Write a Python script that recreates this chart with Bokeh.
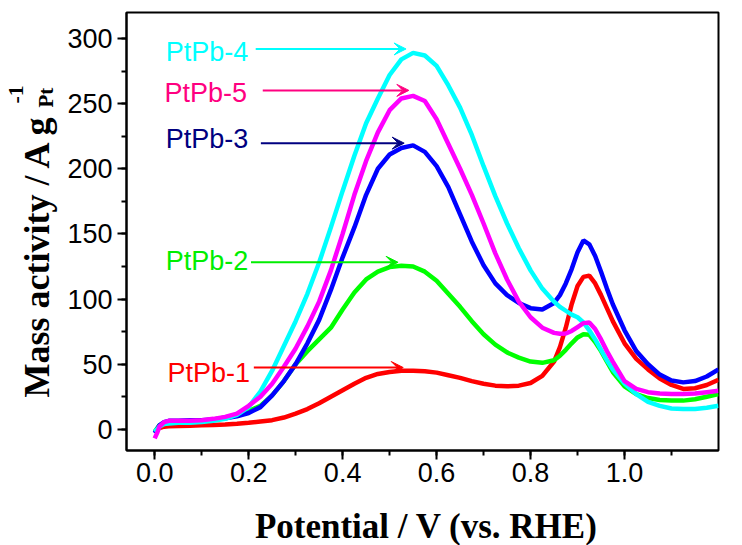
from bokeh.plotting import figure
from bokeh.layouts import row, column
from bokeh.models import (Range1d, SingleIntervalTicker, PrintfTickFormatter,
                          Label, Arrow, VeeHead)
from bokeh.core.properties import value
from bokeh.embed import file_html
from bokeh.resources import INLINE
import math

# ---------------- data ----------------
potential = [0, 0.005, 0.01, 0.02, 0.03, 0.05, 0.075, 0.1, 0.125, 0.15, 0.175,
             0.2, 0.225, 0.25, 0.275, 0.3, 0.325, 0.35, 0.375, 0.4, 0.425,
             0.45, 0.475, 0.5, 0.525, 0.55, 0.575, 0.6, 0.625, 0.65, 0.675,
             0.7, 0.725, 0.75, 0.775, 0.8, 0.825, 0.85, 0.8625, 0.875, 0.8875,
             0.9, 0.9125, 0.925, 0.9375, 0.95, 0.9625, 0.975, 1.0, 1.025,
             1.05, 1.075, 1.1, 1.125, 1.15, 1.175, 1.2]

ptpb1 = [-2, -0.5, 1, 2, 2.3, 2.5, 2.7, 3, 3.3, 3.6, 4.2,
         5, 6, 7, 9, 12, 15.5, 20, 25, 30, 35,
         39.5, 42.5, 44, 45, 45, 44.5, 43.5, 41.5, 39.5, 37,
         35, 33.5, 33, 33.5, 35.5, 41, 52, 63, 78, 96,
         110, 117, 118, 112, 103, 93, 83, 66, 54,
         46, 39, 34, 31, 31.5, 34, 38]

ptpb2 = [-2, 0.5, 3, 5, 5.5, 5.5, 6, 6.5, 7.5, 9, 11,
         14, 18, 26, 37, 50, 60, 69, 78, 92, 105,
         115, 121, 124.5, 125.5, 125, 121, 114, 104, 94, 83,
         73, 65, 59, 55, 52, 51, 53, 56.5, 61, 66,
         70.5, 73, 72.5, 67, 60, 52, 44, 33, 27,
         24, 22.5, 22, 22, 23, 25, 27]

ptpb3 = [-3, 0, 3, 5.5, 6.5, 6.5, 7, 7, 7.5, 8.5, 10,
         12.5, 17, 26, 37, 50, 66, 84, 107, 132, 155,
         180, 200, 211, 216, 218, 213, 202, 186, 165, 144,
         126, 112, 103, 97, 93, 92, 97, 103, 112, 123,
         136, 145, 142, 133, 121, 108, 96, 76, 60,
         50, 42, 37.5, 36, 37, 40.5, 46]

ptpb4 = [-2, 0, 2, 4, 4.5, 5, 5, 5.5, 6.5, 8, 11,
         17, 29, 45, 64, 83, 104, 128, 155, 183, 210,
         235, 254, 272, 284, 289, 287, 279, 264, 247, 226,
         202, 179, 158, 139, 122, 108, 98, 94, 91, 88,
         86, 82, 76, 69, 61, 53, 46, 35, 27,
         21, 18, 16, 15.5, 15.6, 16.5, 18]

ptpb5 = [-7, -3, 2, 5.5, 6.5, 6.5, 6.5, 7, 8, 9.5, 12,
         18, 25, 35, 48, 62, 79, 98, 122, 150, 180,
         206, 228, 245, 254, 256, 252, 238, 219, 200, 180,
         158, 135, 115, 98, 86, 78, 74, 73.3, 73.5, 75.5,
         78.5, 81.5, 82, 77, 69, 60, 52, 37, 31,
         28.5, 27.5, 27, 27, 27.5, 28.5, 29.5]

series_names = ["PtPb-1", "PtPb-2", "PtPb-3", "PtPb-4", "PtPb-5"]
series_values = [ptpb1, ptpb2, ptpb3, ptpb4, ptpb5]
line_colors = ["#FF0000", "#00FF00", "#0000FF", "#00FFFF", "#FF00FF"]
label_colors = ["#FF0000", "#00EE00", "#000080", "#00FFFF", "#FF0080"]

# label anchor (data coords) and arrow (start x, end x, y)
label_pos = [(0.027, 43.5), (0.0235, 129.5), (0.0235, 222.5),
             (0.0235, 289.5), (0.021, 258.2)]
arrow_pos = [(0.211, 0.529, 47.4), (0.205, 0.518, 128.2),
             (0.226, 0.531, 219.7), (0.215, 0.535, 292.0),
             (0.230, 0.541, 260.2)]

x_title = "Potential / V (vs. RHE)"
y_title = "Mass activity / A g"
y_title_sub = "Pt"
y_title_sup = "-1"

# ---------------- main figure ----------------
p = figure(width=682, height=500,
           x_range=Range1d(-0.06, 1.2), y_range=Range1d(-16.3, 320),
           output_backend="svg", toolbar_location=None,
           min_border_left=66, min_border_right=24,
           min_border_top=12, min_border_bottom=50)

p.background_fill_color = "white"
p.border_fill_color = "white"
p.xgrid.visible = False
p.ygrid.visible = False
p.outline_line_color = "black"
p.outline_line_width = 2
p.outline_line_alpha = 1

p.xaxis.ticker = SingleIntervalTicker(interval=0.2, num_minor_ticks=2)
p.yaxis.ticker = SingleIntervalTicker(interval=50, num_minor_ticks=2)
p.xaxis.formatter = PrintfTickFormatter(format="%.1f")
p.yaxis.formatter = PrintfTickFormatter(format="%d")

for ax in (p.xaxis, p.yaxis):
    ax.axis_line_width = 2
    ax.axis_line_color = "black"
    ax.major_tick_line_width = 2
    ax.minor_tick_line_width = 2
    ax.major_tick_line_color = "black"
    ax.minor_tick_line_color = "black"
    ax.major_tick_out = 9
    ax.major_tick_in = 0
    ax.minor_tick_out = 5
    ax.minor_tick_in = 0
    ax.major_label_text_font = "Liberation Sans"
    ax.major_label_text_font_size = "27px"
    ax.major_label_text_color = "black"
p.yaxis.major_label_standoff = 5
p.xaxis.major_label_standoff = 3

for vals, col in zip(series_values, line_colors):
    p.line(potential, vals, line_color=col, line_width=4.5)

for name, col, (lx, ly), (ax0, ax1, ay) in zip(series_names, label_colors,
                                                label_pos, arrow_pos):
    p.add_layout(Label(x=lx, y=ly, text=name, text_font="Liberation Sans",
                       text_font_size="27px", text_color=col,
                       text_align="left", text_baseline="alphabetic"))
    p.add_layout(Arrow(end=VeeHead(size=12, fill_color=col, line_color=col,
                                   line_width=1),
                       x_start=ax0, y_start=ay, x_end=ax1, y_end=ay,
                       line_color=col, line_width=2))

# ---------------- helper figures for axis titles ----------------
# their ranges are in pixels measured up from the bottom of the page
def blank(w, h, y0, y1, top=0, bottom=0):
    f = figure(width=w, height=h, x_range=Range1d(0, w), y_range=Range1d(y0, y1),
               output_backend="svg", toolbar_location=None,
               x_axis_location=None, y_axis_location=None,
               min_border=0, min_border_left=0, min_border_right=0,
               min_border_top=top, min_border_bottom=bottom)
    f.xgrid.visible = False
    f.ygrid.visible = False
    f.outline_line_color = None
    f.background_fill_color = "white"
    f.border_fill_color = "white"
    return f

serif = value("Liberation Serif")

yfig = blank(60, 500, 95, 533, top=12, bottom=50)
yfig.text(x=[36], y=[148], text=[y_title], angle=math.pi / 2,
          text_font=serif, text_font_style="bold", text_font_size="36px",
          text_color="black", text_align="left", text_baseline="alphabetic")
yfig.text(x=[45], y=[438], text=[y_title_sub], angle=math.pi / 2,
          text_font=serif, text_font_style="bold", text_font_size="21px",
          text_color="black", text_align="left", text_baseline="alphabetic")
yfig.text(x=[15], y=[442], text=[y_title_sup], angle=math.pi / 2,
          text_font=serif, text_font_style="bold", text_font_size="22px",
          text_color="black", text_align="left", text_baseline="alphabetic")

xfig = blank(742, 45, 0, 45)
xfig.text(x=[426], y=[19], text=[x_title],
          text_font=serif, text_font_style="bold", text_font_size="35px",
          text_color="black", text_align="center", text_baseline="alphabetic")

layout = column(row(yfig, p), xfig)
open("out.html", "w").write(file_html(layout, INLINE))
